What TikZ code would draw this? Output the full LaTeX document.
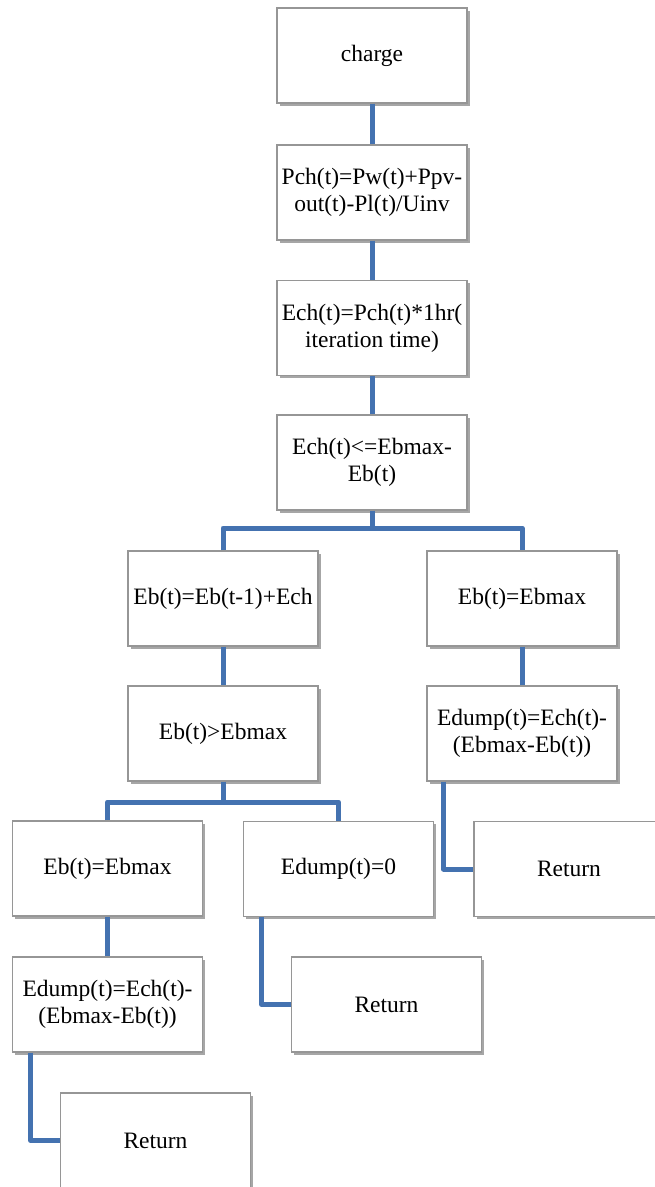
\documentclass[tikz,border=0pt]{standalone}
\usepackage{fontspec}
\newfontfamily\boxfont{LiberationSerif}[Extension=.ttf, UprightFont=*-Regular]
\usetikzlibrary{shadows,calc}
\definecolor{linkblue}{RGB}{68,114,176}
\definecolor{boxgray}{RGB}{150,150,150}
\tikzset{
  stepbox/.style={draw=boxgray, line width=1.3pt, fill=white,
    minimum width=190pt, minimum height=95pt, inner sep=2pt,
    align=center, font=\boxfont\fontsize{23.5}{27}\selectfont,
    drop shadow={shadow xshift=2.5pt, shadow yshift=-2.5pt, opacity=0.35, fill=black}},
  link/.style={draw=linkblue, line width=5pt, line join=round}
}
\begin{document}
\begin{tikzpicture}[x=1pt,y=-1pt]
\clip (0,0) rectangle (655,1187);
\fill[white] (0,0) rectangle (655,1187);

% main column
\node[stepbox] (charge) at (372,55.5) {charge};
\node[stepbox] (pch) at (372,192.5) {Pch(t)=Pw(t)+Ppv-\\out(t)-Pl(t)/Uinv};
\node[stepbox] (ech) at (372,328) {Ech(t)=Pch(t)*1hr(\\iteration time)};
\node[stepbox] (cond) at (372,462.5) {Ech(t)<=Ebmax-\\Eb(t)};

% first split
\node[stepbox] (eb1) at (223,598.5) {Eb(t)=Eb(t-1)+Ech};
\node[stepbox] (ebmr) at (522,598.5) {Eb(t)=Ebmax};
\node[stepbox] (gt) at (223,733.5) {Eb(t)>Ebmax};
\node[stepbox] (dumpr) at (522,733.5) {Edump(t)=Ech(t)-\\(Ebmax-Eb(t))};
\node[stepbox] (retr) at (569,869) {Return};

% second split
\node[stepbox] (ebml) at (107.5,868.5) {Eb(t)=Ebmax};
\node[stepbox] (dumpz) at (338.5,869) {Edump(t)=0};
\node[stepbox] (retm) at (386.5,1004.5) {Return};
\node[stepbox] (dumpl) at (107.5,1004.5) {Edump(t)=Ech(t)-\\(Ebmax-Eb(t))};
\node[stepbox] (retl) at (155.5,1140.5) {Return};

% junction points of the branches
\coordinate (j1) at (372,528);
\coordinate (j2) at (223,802);

% connectors
\draw[link] (charge.south) -- (pch.north);
\draw[link] (pch.south) -- (ech.north);
\draw[link] (ech.south) -- (cond.north);
\draw[link] (cond.south) -- (j1);
\draw[link] (eb1.north) |- (j1) -| (ebmr.north);
\draw[link] (eb1.south) -- (gt.north);
\draw[link] (ebmr.south) -- (dumpr.north);
\draw[link] ($(dumpr.south west)+(17,0)$) |- (retr.west);
\draw[link] (gt.south) -- (j2);
\draw[link] (ebml.north) |- (j2) -| (dumpz.north);
\draw[link] ($(dumpz.south west)+(19,0)$) |- (retm.west);
\draw[link] (ebml.south) -- (dumpl.north);
\draw[link] ($(dumpl.south west)+(19,0)$) |- (retl.west);
\end{tikzpicture}
\end{document}
